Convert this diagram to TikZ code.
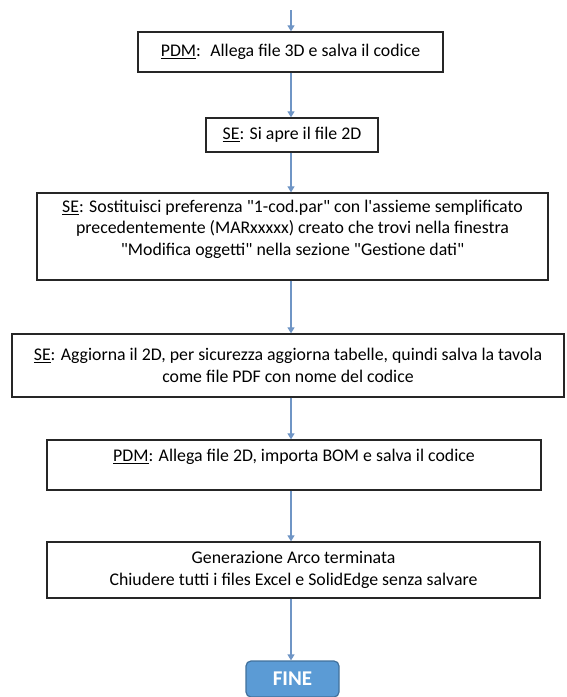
\documentclass[tikz,border=0pt]{standalone}
\usepackage{fontspec}
\setmainfont{Carlito}
\usetikzlibrary{arrows.meta}
\definecolor{arrowblue}{HTML}{6F95C5}
\definecolor{finefill}{HTML}{5B9BD5}
\definecolor{fineline}{HTML}{41719C}
\newcommand{\dq}{\textquotedbl}
\begin{document}
\begin{tikzpicture}[x=1pt,y=-1pt,
  stepbox/.style={draw=black!85, line width=1.3pt, fill=white, align=center, inner sep=0pt,
    font=\fontsize{17.8}{21.7}\selectfont},
  arr/.style={draw=arrowblue, line width=1.2pt, -{Triangle[width=7pt,length=6pt]}},
  finebox/.style={draw=fineline, line width=1.2pt, fill=finefill, rounded corners=5pt,
    text=white, font=\fontsize{21}{24}\selectfont\bfseries, inner sep=0pt}
]
\useasboundingbox (0,0) rectangle (566,697);
\node[stepbox, minimum width=305pt, minimum height=40pt] (b1) at (290.5,52)
  {\underline{PDM}:~ Allega file 3D e salva il codice};
\node[stepbox, minimum width=172pt, minimum height=34pt] (b2) at (292,135)
  {\underline{SE}: Si apre il file 2D};
\node[stepbox, minimum width=511pt, minimum height=87pt, text depth=17.5pt] (b3) at (292.5,236.5)
  {\underline{SE}: Sostituisci preferenza \dq 1-cod.par\dq{} con l\textquotesingle assieme semplificato\\
   precedentemente (MARxxxxx) creato che trovi nella finestra\\
   \dq Modifica oggetti\dq{} nella sezione \dq Gestione dati\dq};
\node[stepbox, minimum width=552pt, minimum height=63pt] (b4) at (288,365.5)
  {\underline{SE}: Aggiorna il 2D, per sicurezza aggiorna tabelle, quindi salva la tavola\\
   come file PDF con nome del codice};
\node[stepbox, minimum width=494pt, minimum height=50pt, text depth=18.5pt] (b5) at (294,465)
  {\underline{PDM}: Allega file 2D, importa BOM e salva il codice};
\node[stepbox, minimum width=493pt, minimum height=56pt] (b6) at (293.5,570)
  {Generazione Arco terminata\\
   Chiudere tutti i files Excel e SolidEdge senza salvare};
\node[finebox, minimum width=93pt, minimum height=36pt] (fine) at (292.5,679) {FINE};
\coordinate (start) at (291,10);
\draw[arr] (start) -- (start |- b1.north);
\draw[arr] (b1.south -| start) -- (start |- b2.north);
\draw[arr] (b2.south -| start) -- (start |- b3.north);
\draw[arr] (b3.south -| start) -- (start |- b4.north);
\draw[arr] (b4.south -| start) -- (start |- b5.north);
\draw[arr] (b5.south -| start) -- (start |- b6.north);
\draw[arr] (b6.south -| start) -- (start |- fine.north);
\end{tikzpicture}
\end{document}
